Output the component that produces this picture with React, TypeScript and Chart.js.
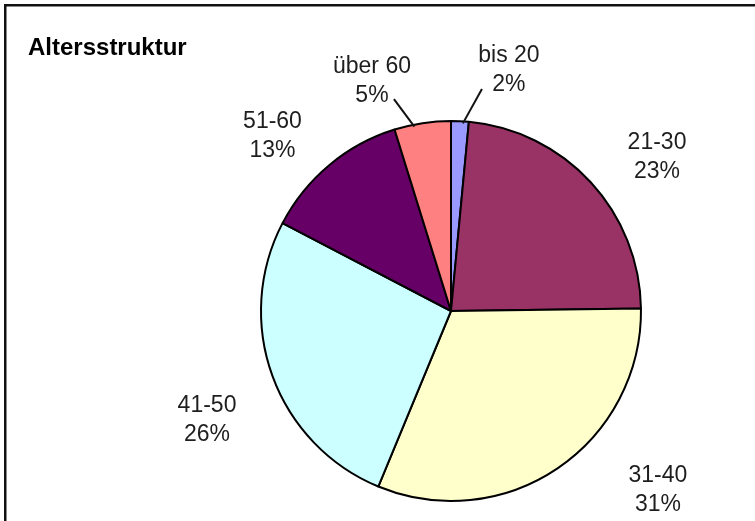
import React, { useEffect, useRef } from "react";
import { Chart, registerables } from "chart.js";

Chart.register(...registerables);

const categories = ["bis 20", "21-30", "31-40", "41-50", "51-60", "über 60"];
const shares = [1.5, 23.3, 31.45, 26.4, 12.55, 4.8];
const percentLabels = ["2%", "23%", "31%", "26%", "13%", "5%"];
const sliceColors = ["#9999FF", "#993366", "#FFFFCC", "#CCFFFF", "#660066", "#FF8080"];
const chartTitle = "Altersstruktur";

// label placement relative to each slice's outer mid point (styling only)
const labelOffsets: [number, number][] = [
  [49, -50.7],
  [66.3, -25.2],
  [100.4, 22.2],
  [-65.4, 44.1],
  [-56.7, -29.2],
  [-50.5, -42.1],
];
// leader lines: [fraction along slice angle for start, end offset from label centre] or null
const leaders: ([number, number, number] | null)[] = [
  [0.67, -27, 18.5],
  null,
  null,
  null,
  null,
  [0.35, 22, 18],
];

const FONT = "'Liberation Sans', Arial, sans-serif";

const decorPlugin = {
  id: "decor",
  beforeDraw(chart: any) {
    const ctx = chart.ctx;
    ctx.save();
    ctx.fillStyle = "#ffffff";
    ctx.fillRect(0, 0, chart.width, chart.height);
    ctx.strokeStyle = "#111111";
    ctx.lineWidth = 2.5;
    ctx.beginPath();
    ctx.moveTo(5.25, chart.height + 2);
    ctx.lineTo(5.25, 5.25);
    ctx.lineTo(chart.width + 2, 5.25);
    ctx.stroke();
    ctx.fillStyle = "#000000";
    ctx.font = "bold 24px " + FONT;
    ctx.textAlign = "left";
    ctx.textBaseline = "middle";
    ctx.fillText(chartTitle, 28, 48);
    ctx.restore();
  },
  afterDatasetsDraw(chart: any) {
    const ctx = chart.ctx;
    const meta = chart.getDatasetMeta(0);
    ctx.save();
    ctx.font = "23px " + FONT;
    ctx.fillStyle = "#1e1e1e";
    ctx.textAlign = "center";
    ctx.textBaseline = "middle";
    meta.data.forEach((arc: any, i: number) => {
      const { x, y, startAngle, endAngle, outerRadius } = arc.getProps(
        ["x", "y", "startAngle", "endAngle", "outerRadius"],
        true
      );
      const mid = (startAngle + endAngle) / 2;
      const px = x + outerRadius * Math.cos(mid);
      const py = y + outerRadius * Math.sin(mid);
      const lx = px + labelOffsets[i][0];
      const ly = py + labelOffsets[i][1];
      ctx.fillText(categories[i], lx, ly - 14.5);
      ctx.fillText(percentLabels[i], lx, ly + 14.5);
      const ld = leaders[i];
      if (ld) {
        const a = startAngle + (endAngle - startAngle) * ld[0];
        const sx = x + (outerRadius - 2) * Math.cos(a);
        const sy = y + (outerRadius - 2) * Math.sin(a);
        ctx.strokeStyle = "#111111";
        ctx.lineWidth = 2;
        ctx.beginPath();
        ctx.moveTo(sx, sy);
        ctx.lineTo(lx + ld[1], ly + ld[2]);
        ctx.stroke();
      }
    });
    ctx.restore();
  },
};

export default function App() {
  const ref = useRef<HTMLCanvasElement>(null);
  useEffect(() => {
    document.body.style.margin = "0";
    const chart = new Chart(ref.current!, {
      type: "pie",
      data: {
        labels: categories,
        datasets: [
          {
            data: shares,
            backgroundColor: sliceColors,
            borderColor: "#000000",
            borderWidth: 2,
          },
        ],
      },
      options: {
        responsive: false,
        animation: false,
        layout: { padding: { left: 260, right: 113, top: 120, bottom: 19 } },
        plugins: {
          legend: { display: false },
          tooltip: { enabled: false },
          title: { display: false },
        },
      },
      plugins: [decorPlugin],
    });
    return () => chart.destroy();
  }, []);
  return <canvas ref={ref} width={755} height={521} style={{ display: "block" }} />;
}
